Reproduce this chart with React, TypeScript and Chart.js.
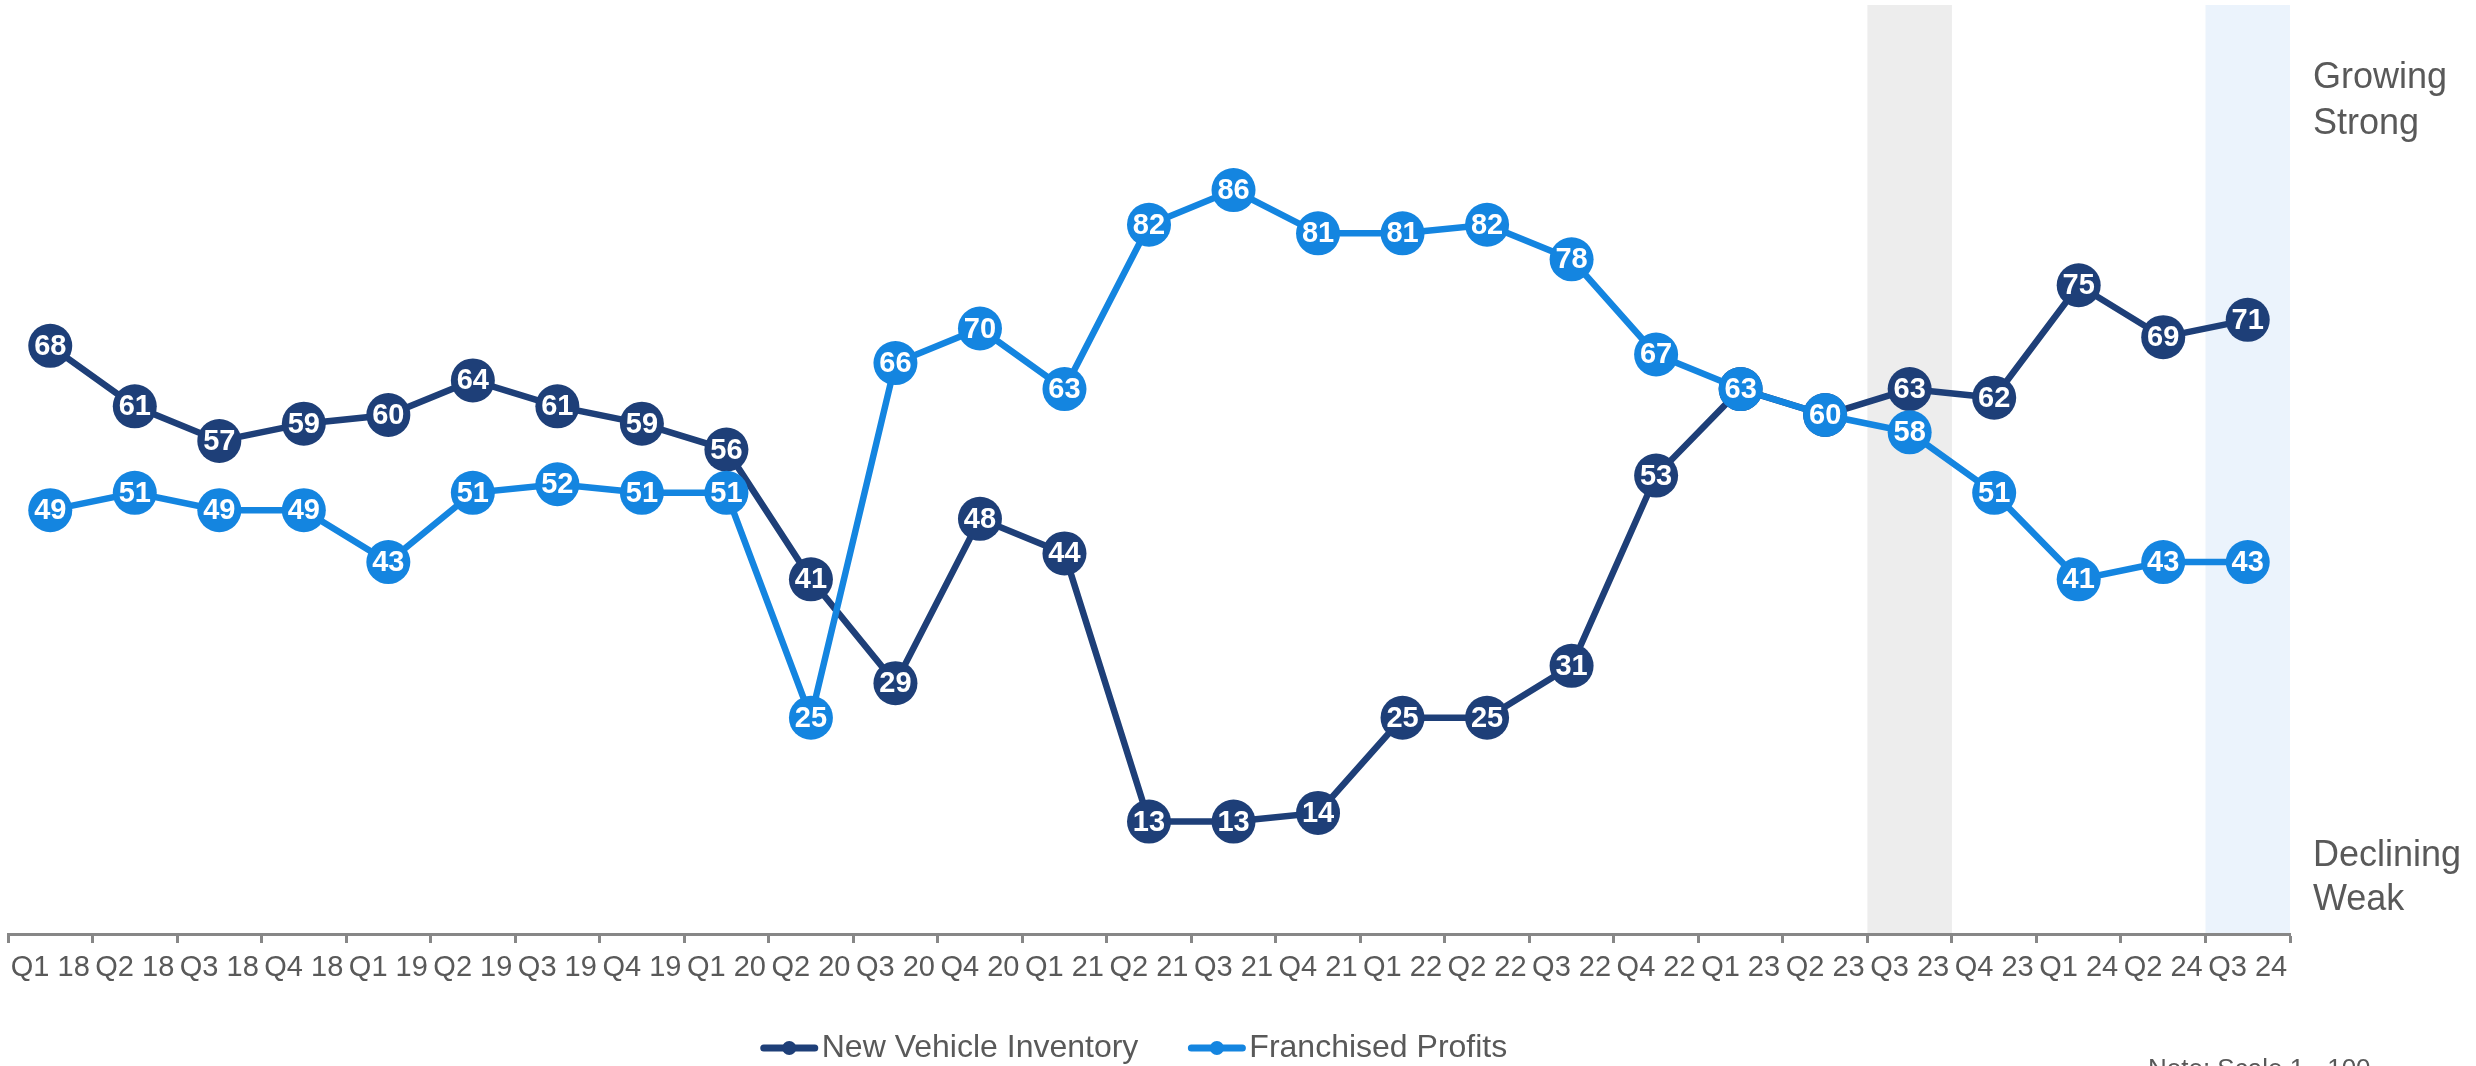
import React, { useEffect, useRef } from "react";
import { Chart, registerables } from "chart.js";

Chart.register(...registerables);

const quarters = [
  "Q1 18", "Q2 18", "Q3 18", "Q4 18",
  "Q1 19", "Q2 19", "Q3 19", "Q4 19",
  "Q1 20", "Q2 20", "Q3 20", "Q4 20",
  "Q1 21", "Q2 21", "Q3 21", "Q4 21",
  "Q1 22", "Q2 22", "Q3 22", "Q4 22",
  "Q1 23", "Q2 23", "Q3 23", "Q4 23",
  "Q1 24", "Q2 24", "Q3 24",
];

const newVehicleInventory = [
  68, 61, 57, 59, 60, 64, 61, 59, 56, 41, 29, 48, 44, 13,
  13, 14, 25, 25, 31, 53, 63, 60, 63, 62, 75, 69, 71,
];

const franchisedProfits = [
  49, 51, 49, 49, 43, 51, 52, 51, 51, 25, 66, 70, 63, 82,
  86, 81, 81, 82, 78, 67, 63, 60, 58, 51, 41, 43, 43,
];

const seriesNames = ["New Vehicle Inventory", "Franchised Profits"];
const seriesColors = ["#1E3F78", "#1485E0"];

const shadedQuarters = ["Q3 23", "Q3 24"];
const shadeColors = ["#EDEDED", "#EBF3FC"];

const topLabel = ["Growing", "Strong"];
const bottomLabel = ["Declining", "Weak"];
const noteText = "Note: Scale 1 - 100";

const FONT = "Arial, 'Liberation Sans', sans-serif";
const TEXT_GREY = "#595959";
const AXIS_GREY = "#878787";

const bandPlugin = {
  id: "bands",
  beforeDraw(chart: any) {
    const { ctx, chartArea } = chart;
    const x = chart.scales.x;
    const w = (chartArea.right - chartArea.left) / quarters.length;
    ctx.save();
    shadedQuarters.forEach((q, k) => {
      const i = quarters.indexOf(q);
      const c = x.getPixelForValue(i);
      ctx.fillStyle = shadeColors[k];
      ctx.fillRect(c - w / 2, chartArea.top, w, chartArea.bottom - chartArea.top);
    });
    ctx.restore();
  },
};

const pointLabelPlugin = {
  id: "pointLabels",
  afterDatasetDraw(chart: any, args: any) {
    const { ctx } = chart;
    const meta = args.meta;
    const ds = chart.data.datasets[args.index];
    ctx.save();
    ctx.font = `bold 29px ${FONT}`;
    ctx.fillStyle = "#FFFFFF";
    ctx.textAlign = "center";
    ctx.textBaseline = "middle";
    meta.data.forEach((pt: any, i: number) => {
      ctx.fillText(String(ds.data[i]), pt.x, pt.y + 1);
    });
    ctx.restore();
  },
};

const decorPlugin = {
  id: "decor",
  afterDraw(chart: any) {
    const { ctx, chartArea } = chart;
    ctx.save();
    // right side labels
    ctx.font = `36px ${FONT}`;
    ctx.fillStyle = TEXT_GREY;
    ctx.textAlign = "left";
    ctx.textBaseline = "middle";
    const rx = chartArea.right + 23;
    topLabel.forEach((t, i) => ctx.fillText(t, rx, 78 + i * 46));
    bottomLabel.forEach((t, i) => ctx.fillText(t, rx, 856 + i * 44));

    // legend
    ctx.font = `32px ${FONT}`;
    const lineW = 57;
    const gapAfterLine = 4;
    const gapItems = 50;
    const widths = seriesNames.map((n) => ctx.measureText(n).width);
    const total = widths.reduce((a, b) => a + b, 0) + seriesNames.length * (lineW + gapAfterLine) + gapItems;
    let lx = 1134 - total / 2;
    const ly = 1048;
    seriesNames.forEach((n, i) => {
      ctx.strokeStyle = seriesColors[i];
      ctx.fillStyle = seriesColors[i];
      ctx.lineWidth = 7;
      ctx.lineCap = "round";
      ctx.beginPath();
      ctx.moveTo(lx + 3, ly);
      ctx.lineTo(lx + lineW - 3, ly);
      ctx.stroke();
      ctx.beginPath();
      ctx.arc(lx + lineW / 2, ly, 7, 0, Math.PI * 2);
      ctx.fill();
      ctx.fillStyle = TEXT_GREY;
      ctx.textAlign = "left";
      ctx.textBaseline = "middle";
      ctx.fillText(n, lx + lineW + gapAfterLine, ly);
      lx += lineW + gapAfterLine + widths[i] + gapItems;
    });

    // note
    ctx.font = `26px ${FONT}`;
    ctx.textBaseline = "top";
    ctx.fillText(noteText, 2148, 1057);
    ctx.restore();
  },
};

export default function App() {
  const ref = useRef<HTMLCanvasElement | null>(null);

  useEffect(() => {
    document.body.style.margin = "0";
    const canvas = ref.current;
    if (!canvas) return;
    const chart = new Chart(canvas, {
      type: "line",
      data: {
        labels: quarters,
        datasets: [
          {
            label: seriesNames[0],
            data: newVehicleInventory,
            borderColor: seriesColors[0],
            backgroundColor: seriesColors[0],
            pointBackgroundColor: seriesColors[0],
            borderWidth: 6.5,
            pointRadius: 22,
            pointBorderWidth: 0,
            tension: 0,
            order: 1,
            clip: false as any,
          },
          {
            label: seriesNames[1],
            data: franchisedProfits,
            borderColor: seriesColors[1],
            backgroundColor: seriesColors[1],
            pointBackgroundColor: seriesColors[1],
            borderWidth: 6.5,
            pointRadius: 22,
            pointBorderWidth: 0,
            tension: 0,
            order: 0,
            clip: false as any,
          },
        ],
      },
      options: {
        responsive: false,
        animation: false,
        devicePixelRatio: 1,
        events: [],
        layout: { autoPadding: false, padding: { left: 8, right: 186, top: 5, bottom: 0 } },
        plugins: {
          legend: { display: false },
          tooltip: { enabled: false },
        },
        scales: {
          x: {
            type: "category",
            offset: true,
            grid: {
              offset: true,
              drawOnChartArea: false,
              drawTicks: true,
              tickLength: 9,
              tickWidth: 3,
              tickColor: AXIS_GREY,
            },
            border: { display: true, color: AXIS_GREY, width: 3 },
            ticks: {
              autoSkip: false,
              maxRotation: 0,
              minRotation: 0,
              padding: 8,
              color: TEXT_GREY,
              font: { family: FONT, size: 29 },
            },
            afterFit(scale: any) {
              scale.height = 132;
            },
          },
          y: {
            display: false,
            min: 0,
            max: 107.4,
          },
        },
      },
      plugins: [bandPlugin, pointLabelPlugin, decorPlugin],
    });
    return () => chart.destroy();
  }, []);

  return (
    <div style={{ width: 2476, height: 1066, overflow: "hidden" }}>
      <canvas ref={ref} width={2476} height={1066} style={{ display: "block" }} />
    </div>
  );
}
